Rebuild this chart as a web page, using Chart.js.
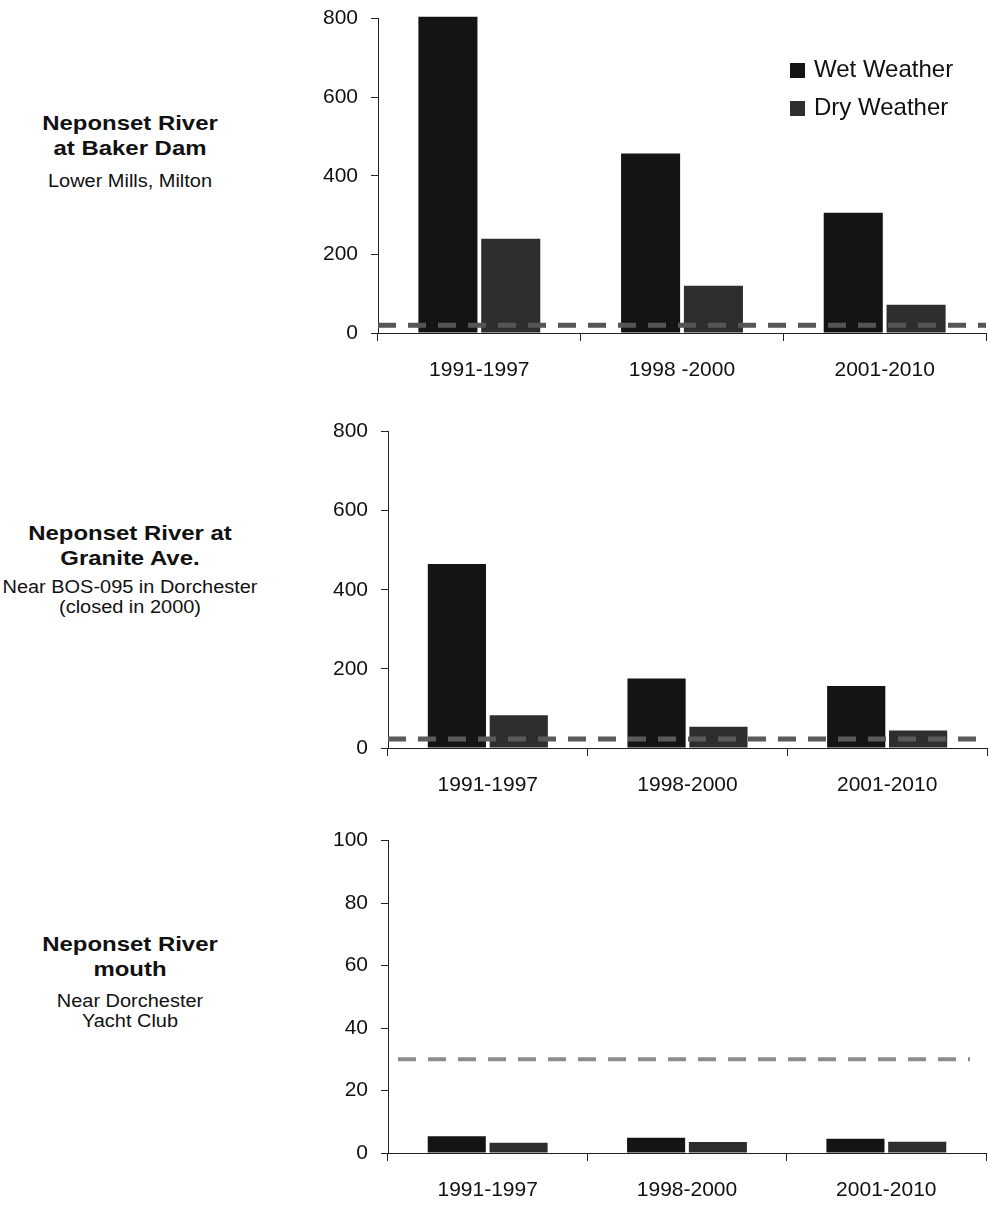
<!DOCTYPE html>
<html>
<head>
<meta charset="utf-8">
<script src="https://cdn.jsdelivr.net/npm/chart.js@4.4.1/dist/chart.umd.min.js"></script>
<style>
  html, body { margin: 0; padding: 0; background: #fff; }
  body { width: 989px; height: 1215px; position: relative; overflow: hidden;
         font-family: "Liberation Sans", Arial, sans-serif; color: #111; }
  .panel { position: absolute; left: 320px; width: 669px; }
  .lab { position: absolute; left: 0; width: 260px; text-align: center; white-space: nowrap;
         transform: scaleX(1.14); transform-origin: 130px 0; }
  .t { font-weight: bold; font-size: 21px; line-height: 25px; }
  .s { font-size: 17.5px; line-height: 20px; }
  #legend { position: absolute; left: 790px; top: 50px; font-size: 24px; }
  #legend div { height: 38px; line-height: 38px; white-space: nowrap; }
  #legend span { display: inline-block; width: 15px; height: 15px; margin-right: 9px; vertical-align: -1px; }
</style>
</head>
<body>

<div class="lab t" style="top:110px">Neponset River<br>at Baker Dam</div>
<div class="lab s" style="top:171px">Lower Mills, Milton</div>

<div class="lab t" style="top:520px">Neponset River at<br>Granite Ave.</div>
<div class="lab s" style="top:577px">Near BOS-095 in Dorchester<br>(closed in 2000)</div>

<div class="lab t" style="top:931px">Neponset River<br>mouth</div>
<div class="lab s" style="top:991px">Near Dorchester<br>Yacht Club</div>

<div class="panel" style="top:-7px;height:407px"><canvas id="c1"></canvas></div>
<div class="panel" style="top:406px;height:404px"><canvas id="c2"></canvas></div>
<div class="panel" style="top:815px;height:400px"><canvas id="c3"></canvas></div>
<div id="legend"></div>

<script>
// categories
const periodsBaker = ['1991-1997', '1998 -2000', '2001-2010'];
const periods = ['1991-1997', '1998-2000', '2001-2010'];
const seriesNames = ['Wet Weather', 'Dry Weather'];

// Neponset River at Baker Dam
const bakerWet = [805, 457, 306];
const bakerDry = [240, 120, 72];
const bakerLimit = 20;

// Neponset River at Granite Ave.
const graniteWet = [465, 176, 157];
const graniteDry = [83, 54, 44];
const graniteLimit = 23;

// Neponset River mouth
const mouthWet = [5.4, 4.9, 4.6];
const mouthDry = [3.3, 3.5, 3.6];
const mouthLimit = 30;

const wetColor = '#141414';
const dryColor = '#2e2e2e';
const font = { family: '"Liberation Sans", Arial, sans-serif', size: 21 };

// dashed reference line across the plot at a y value
const limitLine = {
    id: 'limitLine',
    afterDatasetsDraw(chart, args, opts) {
        const {ctx, chartArea, scales} = chart;
        const y = scales.y.getPixelForValue(opts.value);
        ctx.save();
        ctx.strokeStyle = opts.color;
        ctx.lineWidth = opts.width;
        ctx.setLineDash([18, 12]);
        ctx.beginPath();
        ctx.moveTo(chartArea.left + opts.inset[0], y);
        ctx.lineTo(chartArea.right - opts.inset[1], y);
        ctx.stroke();
        ctx.restore();
    }
};

function makeChart(id, cats, wet, dry, limit, yMax, yStep, box, line) {
    const ctx = document.getElementById(id).getContext('2d');
    return new Chart(ctx, {
        type: 'bar',
        data: {
            labels: cats,
            datasets: [
                { label: seriesNames[0], data: wet, backgroundColor: wetColor, clip: false },
                { label: seriesNames[1], data: dry, backgroundColor: dryColor, clip: false }
            ]
        },
        options: {
            responsive: true,
            maintainAspectRatio: false,
            animation: false,
            categoryPercentage: 0.62,
            barPercentage: 0.94,
            layout: { padding: { top: 0, right: box.right, left: 0, bottom: 0 } },
            scales: {
                x: {
                    grid: { display: true, offset: true, drawOnChartArea: false, drawTicks: true,
                            tickLength: 8, color: '#222' },
                    border: { color: '#222', width: 1 },
                    ticks: { font: font, color: '#111', padding: 17, maxRotation: 0 },
                    afterFit: (s) => { s.height = box.xh; }
                },
                y: {
                    min: 0, max: yMax,
                    grid: { display: true, drawOnChartArea: false, drawTicks: true, tickLength: 7, color: '#222' },
                    border: { color: '#222', width: 1 },
                    ticks: { stepSize: yStep, font: font, color: '#111', padding: 13 },
                    afterFit: (s) => { s.width = box.yw; }
                }
            },
            plugins: {
                legend: { display: false },
                tooltip: { enabled: false },
                limitLine: { value: limit, color: line.color, width: line.width, inset: line.inset }
            }
        },
        plugins: [limitLine]
    });
}

makeChart('c1', periodsBaker, bakerWet, bakerDry, bakerLimit, 800, 200,
          { right: 3, xh: 67, yw: 58 }, { color: '#555', width: 5, inset: [0, 0] });
makeChart('c2', periods, graniteWet, graniteDry, graniteLimit, 800, 200,
          { right: 2, xh: 62, yw: 68 }, { color: '#5a5a5a', width: 5, inset: [0, 0] });
makeChart('c3', periods, mouthWet, mouthDry, mouthLimit, 100, 20,
          { right: 3, xh: 62, yw: 68 }, { color: '#8c8c8c', width: 4, inset: [10, 16] });

// legend for the top panel
const legendEl = document.getElementById('legend');
[wetColor, dryColor].forEach((c, i) => {
    const row = document.createElement('div');
    const sw = document.createElement('span');
    sw.style.background = c;
    row.appendChild(sw);
    row.appendChild(document.createTextNode(seriesNames[i]));
    legendEl.appendChild(row);
});
</script>
</body>
</html>
